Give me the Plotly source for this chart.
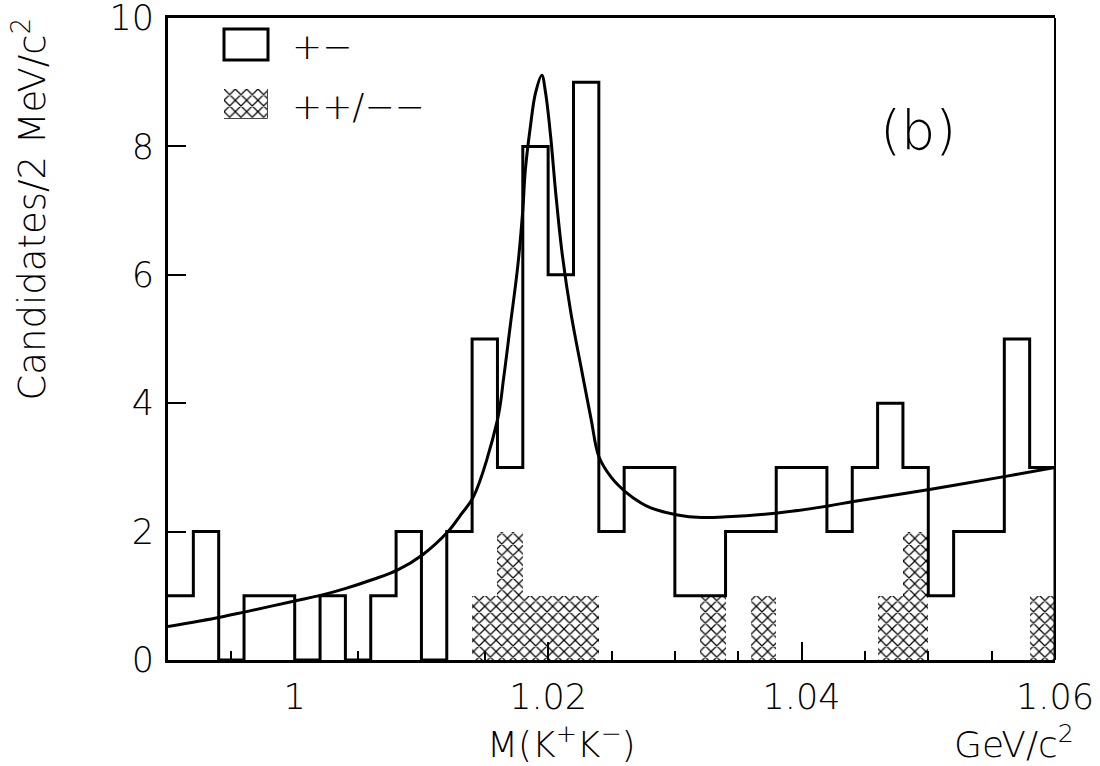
import numpy as np
import plotly.graph_objects as go

# ---------------- data ----------------
bin_lo = 0.99
bin_w = 0.002
n_bins = 35

# opposite-sign (+-) candidates per 2 MeV bin
opp_sign = [1, 2, 0, 1, 1, 0, 1, 0, 1, 2, 0, 2,
            5, 3, 8, 6, 9, 2,
            3, 3, 1, 1, 2, 2, 3, 3, 2, 3, 4, 3, 1, 2, 2, 5, 3]
# same-sign (++/--) candidates per 2 MeV bin
same_sign = [0, 0, 0, 0, 0, 0, 0, 0, 0, 0, 0, 0,
             1, 2, 1, 1, 1, 0,
             0, 0, 0, 1, 0, 1, 0, 0, 0, 0, 1, 2, 0, 0, 0, 0, 1]

# fitted curve
fit_x = [0.9900, 0.9941, 0.9961, 1.0000, 1.0021, 1.0041, 1.0061, 1.0081, 1.0101,
         1.0121, 1.0131, 1.0141, 1.0160, 1.0165, 1.0170, 1.0176, 1.0180, 1.0182,
         1.0186, 1.0190, 1.0195, 1.0198, 1.0202, 1.0206, 1.0211, 1.0218, 1.0226,
         1.0234, 1.0240, 1.0250, 1.0261, 1.0273, 1.0281, 1.0302, 1.0321, 1.0341,
         1.0381, 1.0421, 1.0441, 1.0502, 1.0561, 1.0600]
fit_y = [0.52, 0.665, 0.75, 0.92, 1.01, 1.12, 1.25, 1.40, 1.64,
         2.00, 2.26, 2.54, 3.74, 4.41, 5.19, 6.13, 7.01, 7.63,
         8.31, 8.83, 9.11, 8.83, 8.15, 7.27, 6.34, 5.40, 4.56,
         3.74, 3.17, 2.84, 2.62, 2.45, 2.37, 2.26, 2.22, 2.23,
         2.29, 2.40, 2.47, 2.66, 2.86, 3.00]

x_ticks = [1.0, 1.02, 1.04, 1.06]
y_ticks = [0, 2, 4, 6, 8, 10]

legend_labels = ["+\u2212", "++/\u2212\u2212"]
panel_label = "(b)"
x_title = "M(K<sup>+</sup>K<sup>\u2212</sup>)"
x_unit = "GeV/c<sup>2</sup>"
y_title = "Candidates/2 MeV/c<sup>2</sup>"

# ---------------- figure ----------------
edges = np.round(bin_lo + bin_w * np.arange(n_bins + 1), 4)
centers = np.round(edges[:-1] + bin_w / 2, 4)

FONT = "DejaVu Sans"
WEIGHT = 200
hatch = dict(shape="x", fgcolor="black", bgcolor="white", fgopacity=1,
             size=8, solidity=0.28)

fig = go.Figure()

# same-sign hatched histogram
fig.add_trace(go.Bar(
    x=centers, y=same_sign, width=bin_w,
    marker=dict(color="white", line=dict(width=0), pattern=hatch),
    showlegend=False, hoverinfo="skip"))

# opposite-sign outline histogram (step)
step_x = list(edges[:-1]) + [edges[-1], edges[-1]]
step_y = list(opp_sign) + [opp_sign[-1], 0]
fig.add_trace(go.Scatter(
    x=step_x, y=step_y, mode="lines", line=dict(shape="hv", color="black", width=3),
    showlegend=False, hoverinfo="skip"))

# fit curve
fig.add_trace(go.Scatter(
    x=fit_x, y=fit_y, mode="lines",
    line=dict(shape="spline", smoothing=1.0, color="black", width=3),
    showlegend=False, hoverinfo="skip"))

# legend: hatched box drawn as a bar on a small inset axis
fig.add_trace(go.Bar(
    x=[0], y=[1], width=1, xaxis="x2", yaxis="y2",
    marker=dict(color="white", line=dict(width=1, color="#444"), pattern=hatch),
    showlegend=False, hoverinfo="skip"))

W, H = 1100, 766
L, R, T, B = 168, 45, 18, 106
pw, ph = W - L - R, H - T - B


def px(xp):
    return (xp - L) / pw


def py(yp):
    return (H - B - yp) / ph


tickfont = dict(family=FONT, size=35, color="black", weight=WEIGHT)

fig.update_layout(
    width=W, height=H,
    margin=dict(l=L, r=R, t=T, b=B, autoexpand=False),
    paper_bgcolor="white", plot_bgcolor="white",
    bargap=0, barmode="overlay",
    xaxis=dict(range=[0.99, 1.06], tickmode="array", tickvals=x_ticks,
               ticktext=[f"{v:g}" for v in x_ticks], ticks="inside",
               ticklen=18, tickwidth=2, tickcolor="black",
               minor=dict(tick0=1.0, dtick=0.005, ticks="inside", ticklen=9,
                          tickwidth=2, tickcolor="black"),
               showline=True, linewidth=3, linecolor="black", mirror=True,
               showgrid=False, zeroline=False, tickfont=tickfont, automargin=False,
               ticklabelstandoff=4, ticklabeloverflow="allow"),
    yaxis=dict(range=[0, 10], tickmode="array", tickvals=y_ticks, ticks="inside",
               ticklen=18, tickwidth=2, tickcolor="black",
               showline=True, linewidth=3, linecolor="black", mirror=False,
               showgrid=False, zeroline=False, tickfont=tickfont, automargin=False,
               ticklabelstandoff=4, ticklabeloverflow="allow"),
    xaxis2=dict(domain=[px(224), px(268)], anchor="y2", range=[-0.5, 0.5],
                visible=False, fixedrange=True),
    yaxis2=dict(domain=[py(119), py(89)], anchor="x2", range=[0, 1],
                visible=False, fixedrange=True),
)

# right frame line (thinner)
fig.add_shape(type="line", xref="paper", yref="paper", x0=1, x1=1, y0=0, y1=1,
              line=dict(color="black", width=2))
# legend empty box
fig.add_shape(type="rect", xref="paper", yref="paper",
              x0=px(224), x1=px(268), y0=py(60), y1=py(29),
              line=dict(color="black", width=3), fillcolor="rgba(0,0,0,0)")

txt = dict(family=FONT, size=36, color="black", weight=WEIGHT)
big = dict(family=FONT, size=36, color="black", weight=WEIGHT)
fig.add_annotation(text=legend_labels[0], x=px(290), y=py(46), xref="paper", yref="paper",
                   xanchor="left", yanchor="middle", showarrow=False, font=txt)
fig.add_annotation(text=legend_labels[1], x=px(290), y=py(106), xref="paper", yref="paper",
                   xanchor="left", yanchor="middle", showarrow=False, font=txt)
fig.add_annotation(text=panel_label, x=px(918), y=py(131), xref="paper", yref="paper",
                   xanchor="center", yanchor="middle", showarrow=False,
                   font=dict(family=FONT, size=54, color="black", weight=WEIGHT))
fig.add_annotation(text=x_title, x=px(561), y=py(742), xref="paper", yref="paper",
                   xanchor="center", yanchor="middle", showarrow=False, font=big)
fig.add_annotation(text=x_unit, x=px(1076), y=py(742), xref="paper", yref="paper",
                   xanchor="right", yanchor="middle", showarrow=False, font=big)
fig.add_annotation(text=y_title, x=px(30), y=py(16), xref="paper", yref="paper",
                   xanchor="center", yanchor="top", textangle=-90, showarrow=False,
                   font=dict(family=FONT, size=37, color="black", weight=WEIGHT))

fig.write_html("out.html", post_script="document.body.style.margin='0';",
               config={"displayModeBar": False})
